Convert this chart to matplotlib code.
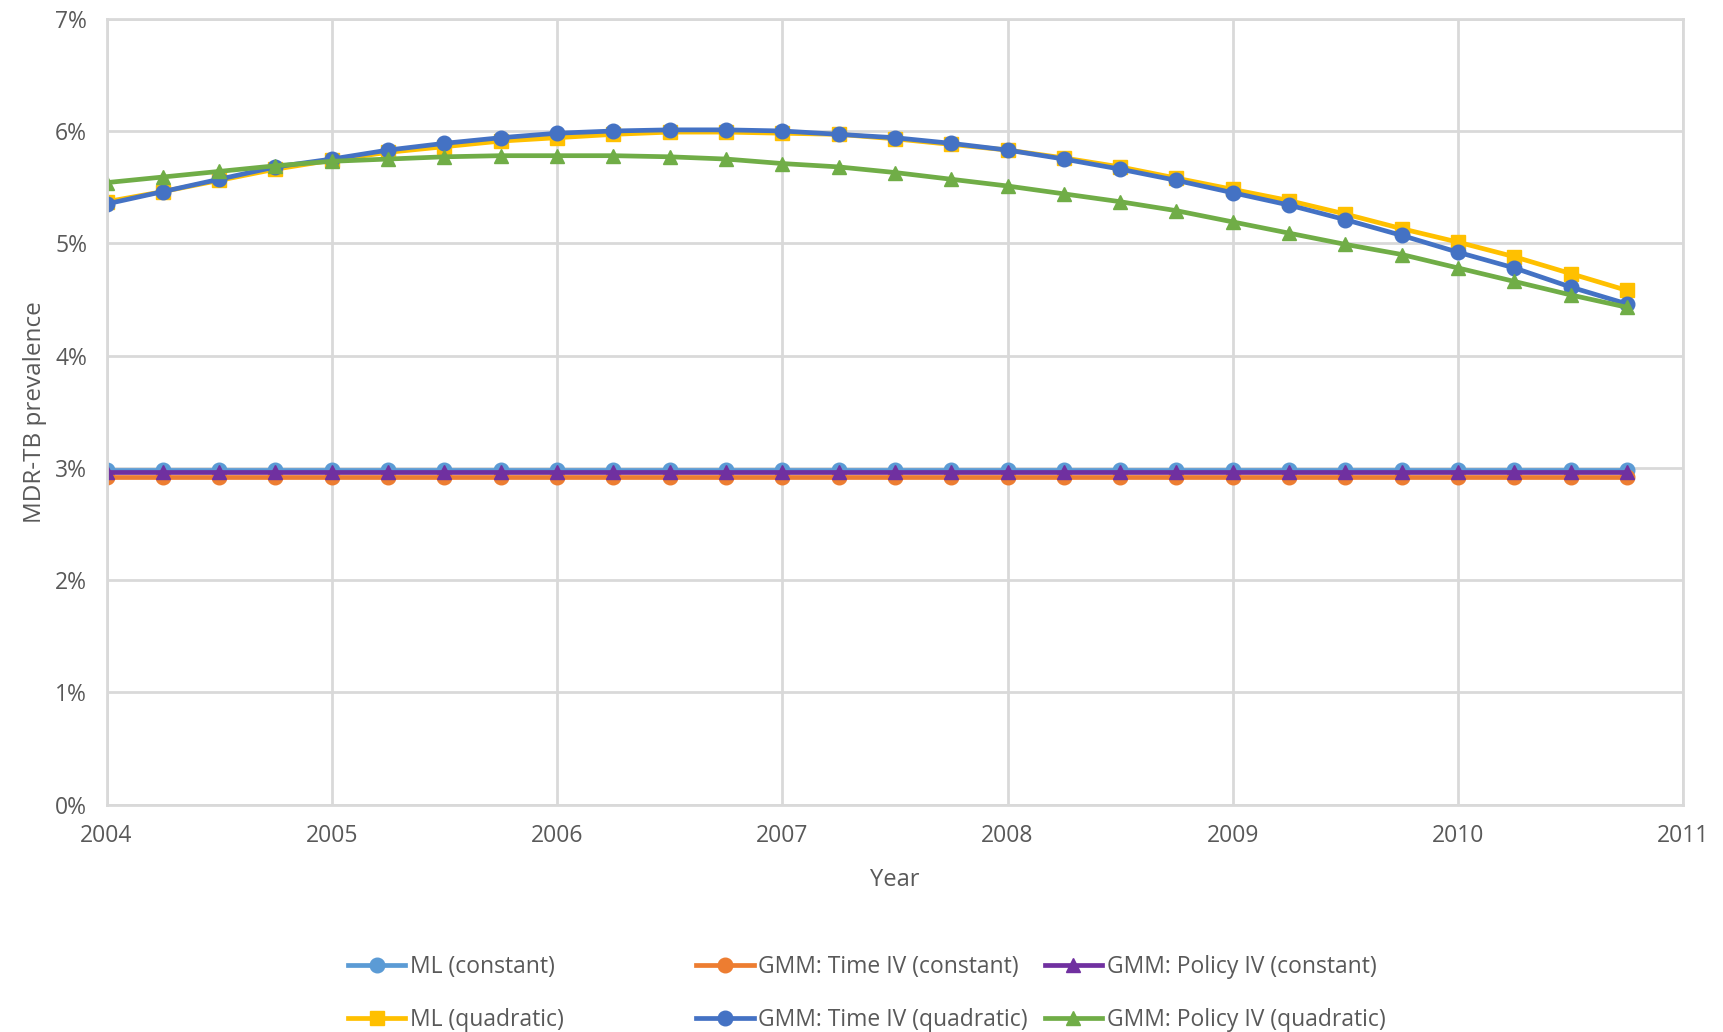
import matplotlib.pyplot as plt
from matplotlib.ticker import PercentFormatter

plt.rcParams['font.family'] = ['Open Sans', 'DejaVu Sans']

# quarterly points, 2004.00 .. 2010.75
years = [2004 + 0.25 * i for i in range(28)]

ml_const = [2.98] * 28
gmm_time_const = [2.92] * 28
gmm_policy_const = [2.96] * 28

ml_quad = [5.37, 5.46, 5.56, 5.66, 5.74, 5.81, 5.86, 5.91, 5.94, 5.97, 5.99, 5.99, 5.98, 5.97,
           5.93, 5.88, 5.83, 5.76, 5.68, 5.58, 5.48, 5.38, 5.26, 5.13, 5.01, 4.88, 4.73, 4.58]
gmm_time_quad = [5.35, 5.46, 5.57, 5.68, 5.75, 5.83, 5.89, 5.94, 5.98, 6.00, 6.01, 6.01, 6.00, 5.97,
                 5.94, 5.89, 5.83, 5.75, 5.66, 5.56, 5.45, 5.34, 5.21, 5.07, 4.92, 4.78, 4.61, 4.46]
gmm_policy_quad = [5.54, 5.59, 5.64, 5.69, 5.73, 5.75, 5.77, 5.78, 5.78, 5.78, 5.77, 5.75, 5.71, 5.68,
                   5.63, 5.57, 5.51, 5.44, 5.37, 5.29, 5.19, 5.09, 4.99, 4.90, 4.78, 4.66, 4.54, 4.43]

series = [
    ("ML (constant)", ml_const, "#5B9BD5", "o"),
    ("GMM: Time IV (constant)", gmm_time_const, "#ED7D31", "o"),
    ("GMM: Policy IV (constant)", gmm_policy_const, "#7030A0", "^"),
    ("ML (quadratic)", ml_quad, "#FFC000", "s"),
    ("GMM: Time IV (quadratic)", gmm_time_quad, "#4472C4", "o"),
    ("GMM: Policy IV (quadratic)", gmm_policy_quad, "#70AD47", "^"),
]

grey = "#595959"
gridc = "#D9D9D9"

fig = plt.figure(figsize=(17.24, 10.32), dpi=100)
ax = fig.add_axes([0.0618, 0.2202, 0.9146, 0.7617])

handles = []
for label, vals, col, mk in series:
    h, = ax.plot(years, vals, color=col, marker=mk, markersize=10.5, lw=3.4, label=label)
    handles.append(h)

ax.set_xlim(2004, 2011)
ax.set_ylim(0, 7)
ax.set_xticks(range(2004, 2012))
ax.set_yticks(range(0, 8))
ax.yaxis.set_major_formatter(PercentFormatter(decimals=0))
ax.grid(True, color=gridc, lw=2)
ax.set_axisbelow(True)
for s in ax.spines.values():
    s.set_color(gridc)
    s.set_linewidth(2)
ax.tick_params(length=0, labelsize=16.5, colors=grey, pad=14)
ax.set_xlabel("Year", fontsize=17, color=grey, labelpad=14)
ax.set_ylabel("MDR-TB prevalence", fontsize=17.5, color=grey, labelpad=6)

# legend: three columns, constant on top row, quadratic below
col_x = [0.190, 0.392, 0.594]
for i, x in enumerate(col_x):
    fig.legend([handles[i], handles[i + 3]], [series[i][0], series[i + 3][0]],
               loc="upper left", bbox_to_anchor=(x, 0.095), frameon=False,
               fontsize=16.5, labelcolor=grey, handlelength=2.5, handletextpad=0.2,
               labelspacing=1.3)

fig.savefig("out.png", dpi=100)
